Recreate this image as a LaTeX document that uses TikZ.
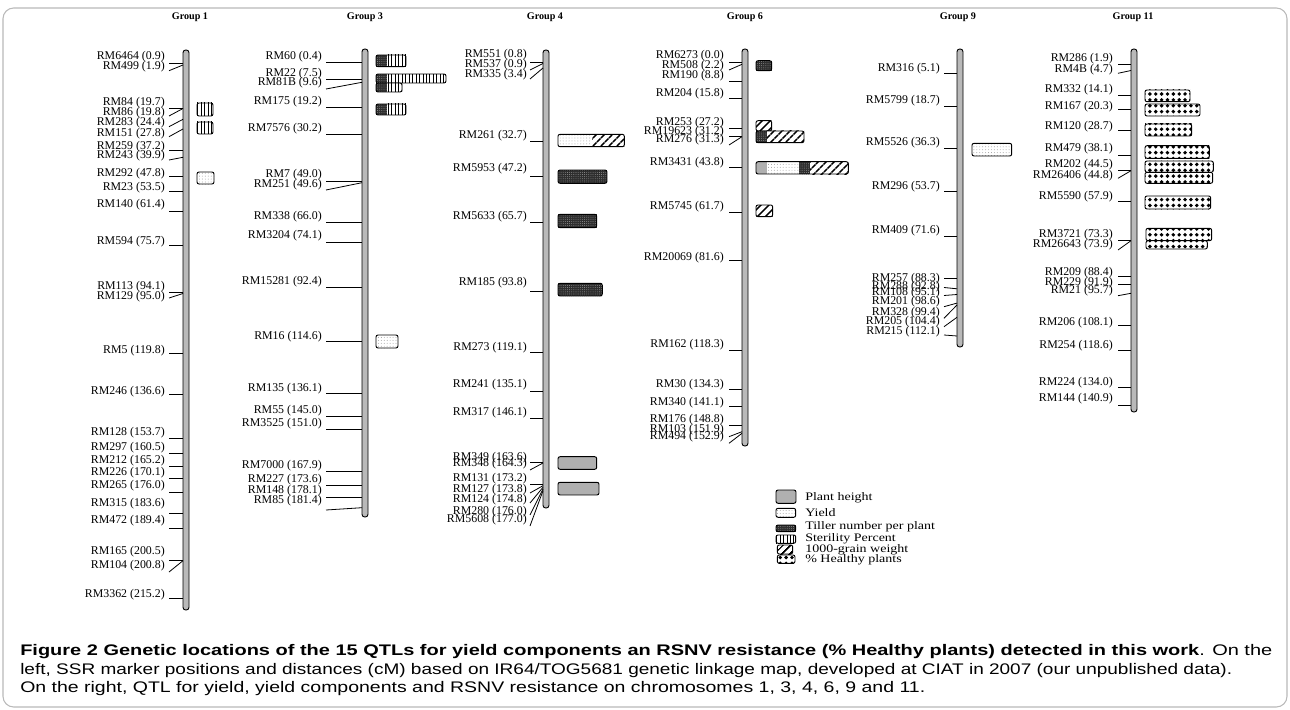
\documentclass[tikz,border=0pt]{standalone}
\usepackage{fontspec}
\usepackage{graphicx}
\setmainfont{Liberation Serif}
\newfontfamily\capfont{Liberation Sans}
\usetikzlibrary{patterns,patterns.meta}
\tikzset{
  lbl/.style={font=\fontsize{8.9}{9}\selectfont, inner sep=0pt, anchor=east},
  tickln/.style={line width=0.6pt},
  chrom/.style={draw=black, fill=gray!55, line width=0.7pt, rounded corners=2pt},
  ttl/.style={font=\bfseries\fontsize{7.6}{8}\selectfont, inner sep=0pt},
  qf/.style={draw=black, line width=0.7pt, rounded corners=1.5pt},
  ph/.style={fill=gray!62},
  yl/.style={fill=white, postaction={pattern={Dots[distance=2.2pt,radius=0.35pt]}, pattern color=gray!80}},
  tl/.style={fill=black!82, postaction={pattern={Dots[distance=1.6pt,radius=0.3pt]}, pattern color=gray!70}},
  st/.style={fill=white, postaction={pattern={Lines[angle=90,distance=2.6pt,line width=0.6pt]}}},
  gw/.style={fill=white, postaction={pattern={Lines[angle=45,distance=4pt,line width=1.3pt]}}},
  hp/.style={fill=white, postaction={pattern={Dots[distance=4.4pt,radius=1.45pt]}}},
  legtxt/.style={font=\fontsize{10.5}{11}\selectfont, inner sep=0pt, anchor=west},
  captxt/.style={font=\capfont\fontsize{11.5}{13}\selectfont, inner sep=0pt, anchor=west}
}
\newcommand\mk[4]{%
  \node[lbl] at (\gLX,#1) {#4};
  \draw[tickln] (\gSX,#2) -- (\gBX,#3);}
\newcommand\seg[5]{\path[#5] (#1,#2) rectangle (#3,#4);}
\newcommand\frm[4]{\draw[qf] (#1,#2) rectangle (#3,#4);}
\newcommand\fitline[2]{%
  \setbox0\hbox{#2}%
  \pgfmathsetmacro\myscf{#1/\the\wd0}%
  \scalebox{\myscf}[1]{\box0}}
\newcommand\sq[1]{\scalebox{1}[0.82]{#1}}
\begin{document}
\begin{tikzpicture}[x=0.75pt,y=-0.75pt]
\useasboundingbox (0,0) rectangle (1290,710);
\draw[gray!55, line width=0.8pt, rounded corners=8pt] (3,8) rectangle (1287,707);

% titles
\node[ttl] (t1) at (190,17) {Group 1};
\node[ttl] (t3) at (365,17) {Group 3};
\node[ttl] (t4) at (545,17) {Group 4};
\node[ttl] (t6) at (745,17) {Group 6};
\node[ttl] (t9) at (958,17) {Group 9};
\node[ttl] (t11) at (1133,17) {Group 11};

% bars
\draw[chrom] (183,50) rectangle (189,610);
\draw[chrom] (362,49) rectangle (368,517);
\draw[chrom] (543,50) rectangle (549,508);
\draw[chrom] (742,49) rectangle (748,446);
\draw[chrom] (957,49) rectangle (963,347);
\draw[chrom] (1131,49) rectangle (1137,412);

% Group 1
\def\gLX{165}\def\gSX{169}\def\gBX{183}
\mk{57}{63}{63}{RM6464 (0.9)}
\mk{67}{70.7}{65}{RM499 (1.9)}
\mk{103}{108}{108}{RM84 (19.7)}
\mk{113}{116}{108.5}{RM86 (19.8)}
\mk{123}{126.7}{119.3}{RM283 (24.4)}
\mk{134}{136.7}{129}{RM151 (27.8)}
\mk{147}{150}{150}{RM259 (37.2)}
\mk{156}{160}{157.3}{RM243 (39.9)}
\mk{174}{176}{176}{RM292 (47.8)}
\mk{188}{191}{191}{RM23 (53.5)}
\mk{205}{211}{211}{RM140 (61.4)}
\mk{242}{245}{245}{RM594 (75.7)}
\mk{287}{292}{292}{RM113 (94.1)}
\mk{297}{298}{293.5}{RM129 (95.0)}
\mk{351}{353}{353}{RM5 (119.8)}
\mk{392}{394}{394}{RM246 (136.6)}
\mk{433}{438}{438}{RM128 (153.7)}
\mk{448}{453}{453}{RM297 (160.5)}
\mk{461}{466}{466}{RM212 (165.2)}
\mk{473}{478}{478}{RM226 (170.1)}
\mk{486}{492}{492}{RM265 (176.0)}
\mk{504}{513}{513}{RM315 (183.6)}
\mk{521}{528}{528}{RM472 (189.4)}
\mk{552}{560}{560}{RM165 (200.5)}
\mk{566}{572}{560.7}{RM104 (200.8)}
\mk{595}{598}{598}{RM3362 (215.2)}

% Group 3
\def\gLX{322}\def\gSX{326}\def\gBX{362}
\mk{57}{62}{62}{RM60 (0.4)}
\mk{74}{79}{79}{RM22 (7.5)}
\mk{83}{89}{82.3}{RM81B (9.6)}
\mk{102}{107}{107}{RM175 (19.2)}
\mk{129}{134}{134}{RM7576 (30.2)}
\mk{175}{181.7}{181.7}{RM7 (49.0)}
\mk{185}{190}{182.7}{RM251 (49.6)}
\mk{217}{222}{222}{RM338 (66.0)}
\mk{236}{242}{242}{RM3204 (74.1)}
\mk{282}{287}{287}{RM15281 (92.4)}
\mk{337}{341}{341}{RM16 (114.6)}
\mk{389}{393}{393}{RM135 (136.1)}
\mk{411}{416}{416}{RM55 (145.0)}
\mk{424}{429}{429}{RM3525 (151.0)}
\mk{466}{471}{471}{RM7000 (167.9)}
\mk{480}{485}{485}{RM227 (173.6)}
\mk{491}{497}{497}{RM148 (178.1)}
\mk{501}{510}{507.7}{RM85 (181.4)}

% Group 4
\def\gLX{527}\def\gSX{530}\def\gBX{543}
\mk{55}{62}{62}{RM551 (0.8)}
\mk{65}{70}{63.5}{RM537 (0.9)}
\mk{75}{79}{68}{RM335 (3.4)}
\mk{136}{141}{141}{RM261 (32.7)}
\mk{169}{176}{176}{RM5953 (47.2)}
\mk{217}{222}{222}{RM5633 (65.7)}
\mk{283}{291}{291}{RM185 (93.8)}
\mk{348}{352}{352}{RM273 (119.1)}
\mk{385}{391}{391}{RM241 (135.1)}
\mk{413}{418}{418}{RM317 (146.1)}
\mk{458}{462}{462}{RM349 (163.6)}
\mk{464}{470}{463}{RM348 (164.3)}
\mk{479}{484}{484}{RM131 (173.2)}
\mk{490}{493}{485.7}{RM127 (173.8)}
\mk{500}{503}{487.3}{RM124 (174.8)}
\mk{512}{515}{489}{RM280 (176.0)}
\mk{520}{526}{490.7}{RM5608 (177.0)}

% Group 6
\def\gLX{724}\def\gSX{729}\def\gBX{742}
\mk{56}{62.7}{62.7}{RM6273 (0.0)}
\mk{66}{70}{64.3}{RM508 (2.2)}
\mk{76}{81.7}{81.7}{RM190 (8.8)}
\mk{94}{98.3}{98.3}{RM204 (15.8)}
\mk{123}{128.3}{128.3}{RM253 (27.2)}
\mk{132}{136}{136}{RM19623 (31.2)}
\mk{140}{145}{136.7}{RM276 (31.3)}
\mk{163}{167.7}{167.7}{RM3431 (43.8)}
\mk{207}{212.3}{212.3}{RM5745 (61.7)}
\mk{258}{260}{260}{RM20069 (81.6)}
\mk{345}{350}{350}{RM162 (118.3)}
\mk{385}{389}{389}{RM30 (134.3)}
\mk{403}{406}{406}{RM340 (141.1)}
\mk{420}{425.7}{425.7}{RM176 (148.8)}
\mk{430}{436.7}{431.7}{RM103 (151.9)}
\mk{437}{443.3}{433.3}{RM494 (152.9)}

% Group 9
\def\gLX{940}\def\gSX{944}\def\gBX{957}
\mk{69}{73.3}{73.3}{RM316 (5.1)}
\mk{101}{106}{106}{RM5799 (18.7)}
\mk{143}{148.3}{148.3}{RM5526 (36.3)}
\mk{187}{191.7}{191.7}{RM296 (53.7)}
\mk{231}{236.7}{236.7}{RM409 (71.6)}
\mk{279}{278}{278}{RM257 (88.3)}
\mk{287}{287.5}{288.8}{RM288 (92.8)}
\mk{293}{295.5}{294.5}{RM108 (95.1)}
\mk{302}{306.7}{303.1}{RM201 (98.6)}
\mk{313}{318.3}{305}{RM328 (99.4)}
\mk{322}{326.7}{317.3}{RM205 (104.4)}
\mk{332}{335}{336}{RM215 (112.1)}

% Group 11
\def\gLX{1113}\def\gSX{1118}\def\gBX{1131}
\mk{59}{64.3}{64.3}{RM286 (1.9)}
\mk{70}{73.3}{70.5}{RM4B (4.7)}
\mk{90}{95}{95}{RM332 (14.1)}
\mk{107}{109.3}{109.3}{RM167 (20.3)}
\mk{127}{130}{130}{RM120 (28.7)}
\mk{149}{155}{155}{RM479 (38.1)}
\mk{165}{170}{170}{RM202 (44.5)}
\mk{176}{178.3}{170.7}{RM26406 (44.8)}
\mk{197}{201.7}{201.7}{RM5590 (57.9)}
\mk{235}{240}{240}{RM3721 (73.3)}
\mk{245}{250}{240.7}{RM26643 (73.9)}
\mk{273}{276.7}{276.7}{RM209 (88.4)}
\mk{283}{284.3}{284.3}{RM229 (91.9)}
\mk{291}{295.7}{293.3}{RM21 (95.7)}
\mk{323}{325}{325}{RM206 (108.1)}
\mk{346}{350}{350}{RM254 (118.6)}
\mk{383}{387.3}{387.3}{RM224 (134.0)}
\mk{399}{405}{405}{RM144 (140.9)}

% QTL boxes Group 1
\seg{197}{103}{213}{116}{st}\frm{197}{103}{213}{116}
\seg{197}{122}{213}{134}{st}\frm{197}{122}{213}{134}
\seg{197}{172}{214}{184}{yl}\frm{197}{172}{214}{184}
% Group 3
\seg{376}{55}{387}{66.7}{tl}\seg{387}{55}{406}{66.7}{st}\frm{376}{55}{406}{66.7}
\seg{376}{74}{387}{83}{tl}\seg{387}{74}{446}{83}{st}\frm{376}{74}{446}{83}
\seg{376}{83}{387}{92}{tl}\seg{387}{83}{402}{92}{st}\frm{376}{83}{402}{92}
\seg{376}{104}{387}{115}{tl}\seg{387}{104}{406}{115}{st}\frm{376}{104}{406}{115}
\seg{376}{335}{398}{348}{yl}\frm{376}{335}{398}{348}
% Group 4
\seg{558}{134.3}{592}{146.7}{yl}\seg{592}{134.3}{624.3}{146.7}{gw}\frm{558}{134.3}{624.3}{146.7}
\seg{558}{170}{607}{183.3}{tl}\frm{558}{170}{607}{183.3}
\seg{558}{214.3}{596.7}{227.7}{tl}\frm{558}{214.3}{596.7}{227.7}
\seg{558}{283.3}{602.3}{296}{tl}\frm{558}{283.3}{602.3}{296}
\seg{558}{456.7}{596.7}{469.3}{ph}\frm{558}{456.7}{596.7}{469.3}
\seg{558}{482.3}{599}{495}{ph}\frm{558}{482.3}{599}{495}
% Group 6
\seg{756}{60.7}{771.7}{70.7}{tl}\frm{756}{60.7}{771.7}{70.7}
\seg{756}{120.7}{771.7}{131}{gw}\frm{756}{120.7}{771.7}{131}
\seg{756}{131}{766.7}{142.7}{tl}\seg{766.7}{131}{804}{142.7}{gw}\frm{756}{131}{804}{142.7}
\seg{756}{161.7}{766.7}{174}{ph}\seg{766.7}{161.7}{799.3}{174}{yl}\seg{799.3}{161.7}{810}{174}{tl}\seg{810}{161.7}{848.3}{174}{gw}\frm{756}{161.7}{848.3}{174}
\seg{756}{205}{772.7}{216.7}{gw}\frm{756}{205}{772.7}{216.7}
% Group 9
\seg{972}{143.3}{1011.7}{156}{yl}\frm{972}{143.3}{1011.7}{156}
% Group 11
\seg{1145}{90}{1190}{101.7}{hp}\frm{1145}{90}{1190}{101.7}
\seg{1145}{104}{1200}{116}{hp}\frm{1145}{104}{1200}{116}
\seg{1145}{124}{1191.7}{136}{hp}\frm{1145}{124}{1191.7}{136}
\seg{1145}{145.7}{1209.3}{158.3}{hp}\frm{1145}{145.7}{1209.3}{158.3}
\seg{1145}{161}{1213.3}{172.3}{hp}\frm{1145}{161}{1213.3}{172.3}
\seg{1145}{172.3}{1212.7}{183.3}{hp}\frm{1145}{172.3}{1212.7}{183.3}
\seg{1145}{196}{1210.7}{209}{hp}\frm{1145}{196}{1210.7}{209}
\seg{1146}{228.3}{1211.7}{240.7}{hp}\frm{1146}{228.3}{1211.7}{240.7}
\seg{1146}{240.7}{1207.3}{249}{hp}\frm{1146}{240.7}{1207.3}{249}

% legend
\seg{776}{490}{796}{503.3}{ph}\frm{776}{490}{796}{503.3}
\seg{776}{508.3}{795.7}{517.3}{yl}\frm{776}{508.3}{795.7}{517.3}
\seg{776}{525}{795.7}{531.7}{tl}\frm{776}{525}{795.7}{531.7}
\seg{776}{535}{795.7}{543.3}{st}\frm{776}{535}{795.7}{543.3}
\seg{777.3}{545}{792.7}{554}{gw}\frm{777.3}{545}{792.7}{554}
\seg{777.3}{555}{795}{563.3}{hp}\frm{777.3}{555}{795}{563.3}
\node[legtxt] (l1) at (805,498) {\sq{Plant height}};
\node[legtxt] (l2) at (805,513) {\sq{Yield}};
\node[legtxt] (l3) at (805,527) {\sq{Tiller number per plant}};
\node[legtxt] (l4) at (805,539) {\sq{Sterility Percent}};
\node[legtxt] (l5) at (805,550) {\sq{1000-grain weight}};
\node[legtxt] (l6) at (805,560) {\sq{\% Healthy plants}};

% caption
\node[captxt] (c1) at (20,652) {\fitline{939pt}{\textbf{Figure 2 Genetic locations of the 15 QTLs for yield components an RSNV resistance (\% Healthy plants) detected in this work}. On the}};
\node[captxt] (c2) at (20,671) {\fitline{909pt}{left, SSR marker positions and distances (cM) based on IR64/TOG5681 genetic linkage map, developed at CIAT in 2007 (our unpublished data).}};
\node[captxt] (c3) at (20,689) {\fitline{678.75pt}{On the right, QTL for yield, yield components and RSNV resistance on chromosomes 1, 3, 4, 6, 9 and 11.}};
\end{tikzpicture}
\end{document}
